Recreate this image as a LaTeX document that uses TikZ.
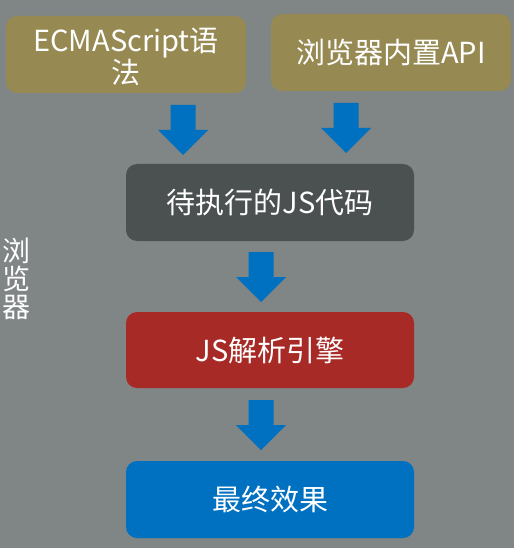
\documentclass[tikz,border=0pt]{standalone}
\usepackage{fontspec}
\setmainfont{Noto Sans CJK SC}
\definecolor{bgc}{RGB}{128,133,133}
\definecolor{olive}{RGB}{150,137,82}
\definecolor{darkc}{RGB}{75,80,80}
\definecolor{redc}{RGB}{168,42,39}
\definecolor{bluec}{RGB}{0,112,192}
\tikzset{
  box/.style={rounded corners=11pt, text=white, align=center, font=\fontsize{29}{31}\selectfont},
  blockarrow/.style={fill=bluec, draw=none}
}
\newcommand{\blkarrow}[2]{% x center, top y
  \fill[blockarrow] (#1-12.5,#2) -- (#1+12.5,#2) -- (#1+12.5,#2+25) -- (#1+25,#2+25) -- (#1,#2+50) -- (#1-25,#2+25) -- (#1-12.5,#2+25) -- cycle;}
\begin{document}
\begin{tikzpicture}[x=1pt,y=-1pt]
\fill[bgc] (0,0) rectangle (514,548);
\useasboundingbox (0,0) rectangle (514,548);
\fill[olive, rounded corners=11pt] (6,16) rectangle (246,93);
\node[box] (ecma) at (126,56.5) {ECMAScript语\\法};
\fill[olive, rounded corners=11pt] (271,14) rectangle (511,91);
\node[box] (api) at (391,52.5) {浏览器内置API};
\fill[darkc, rounded corners=11pt] (126,164) rectangle (414,241);
\node[box] (code) at (270,202.5) {待执行的JS代码};
\fill[redc, rounded corners=11pt] (126,312) rectangle (414,388);
\node[box] (engine) at (270,350) {JS解析引擎};
\fill[bluec, rounded corners=11pt] (126,461) rectangle (414,538);
\node[box] (result) at (270,499.5) {最终效果};
\node[text=white, align=center, font=\fontsize{28}{28}\selectfont] (browser) at (16.5,278.5) {浏\\览\\器};
\blkarrow{183}{105}
\blkarrow{346}{103}
\blkarrow{261}{252}
\blkarrow{261}{400}
\end{tikzpicture}
\end{document}
